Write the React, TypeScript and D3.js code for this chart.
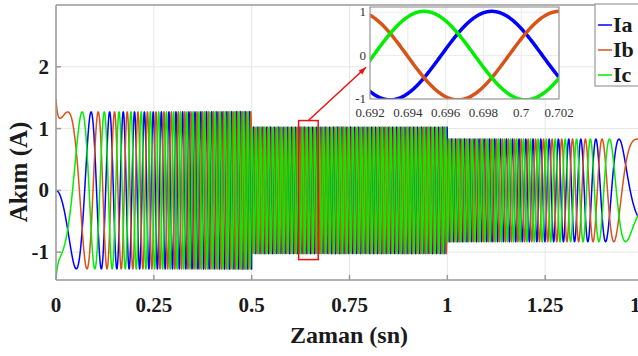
import React, { useEffect } from "react";
import * as d3 from "d3";

const W = 638;
const H = 356;

// main axes
const xTicks = [0, 0.25, 0.5, 0.75, 1, 1.25, 1.5];
const xTickLabels = ["0", "0.25", "0.5", "0.75", "1", "1.25", "1.5"];
const yTicks = [-1, 0, 1, 2];
const yTickLabels = ["-1", "0", "1", "2"];

// three phase currents
const phaseNames = ["Ia", "Ib", "Ic"];
const phaseColors = ["#0000ff", "#d95319", "#00ee00"];
const phaseShiftDeg = [0, -120, 120];
const startAngleDeg = 180;
const spikeAmp = [0, 0.38, -0.35];
const spikeTau = 0.004;

// amplitude per load step
const segStart = [0, 0.5, 1.0];
const segAmp = [1.27, 1.02, 0.83];

// supply frequency profile (Hz)
const freqTime = [0, 0.5, 1.0, 1.5];
const freqHz = [0, 93.1, 93.1, 0];

// zoom window
const zoomTicksX = [0.692, 0.694, 0.696, 0.698, 0.7, 0.702];
const zoomTickLabelsX = ["0.692", "0.694", "0.696", "0.698", "0.7", "0.702"];
const zoomTicksY = [-1, 0, 1];
const zoomTickLabelsY = ["-1", "0", "1"];
const markWindow = [0.62, 0.67, -1.12, 1.13];

function cyclesAt(t: number) {
  let c = 0;
  for (let i = 0; i < freqTime.length - 1; i++) {
    const t0 = freqTime[i];
    const t1 = freqTime[i + 1];
    if (t <= t0) break;
    const te = Math.min(t, t1);
    const f0 = freqHz[i];
    const slope = (freqHz[i + 1] - f0) / (t1 - t0);
    const fe = f0 + slope * (te - t0);
    c += ((f0 + fe) / 2) * (te - t0);
  }
  return c;
}

function ampAt(t: number) {
  let a = segAmp[0];
  segStart.forEach((s, i) => {
    if (t >= s) a = segAmp[i];
  });
  return a;
}

function current(k: number, t: number) {
  const th =
    ((startAngleDeg + phaseShiftDeg[k]) * Math.PI) / 180 +
    2 * Math.PI * cyclesAt(t);
  return ampAt(t) * Math.sin(th) + spikeAmp[k] * Math.exp(-t / spikeTau);
}

const serif = "Liberation Serif, DejaVu Serif, serif";
const boldText = { fontFamily: serif, fontWeight: 700 } as const;

export default function App() {
  useEffect(() => {
    document.body.style.margin = "0";
  }, []);

  const mL = 56,
    mR = 643,
    mT = 5,
    mB = 280;
  const x = d3.scaleLinear().domain([0, 1.5]).range([mL, mR]);
  const y = d3.scaleLinear().domain([-1.45, 3]).range([mB, mT]);

  const zL = 370,
    zR = 559,
    zT = 7,
    zB = 99;
  const zx = d3.scaleLinear().domain([0.692, 0.702]).range([zL, zR]);
  const zy = d3.scaleLinear().domain([-1, 1.12]).range([zB, zT]);

  const ts = d3.range(0, 1.5, 1 / 20000);
  const zts = d3.range(0.6915, 0.7025, 0.00002);

  const mainLine = (k: number) =>
    d3
      .line<number>()
      .x((t) => x(t))
      .y((t) => y(current(k, t)))(ts) || "";
  const zoomLine = (k: number) =>
    d3
      .line<number>()
      .x((t) => zx(t))
      .y((t) => zy(current(k, t)))(zts) || "";

  const rx0 = x(markWindow[0]);
  const rx1 = x(markWindow[1]);
  const ry0 = y(markWindow[3]);
  const ry1 = y(markWindow[2]);

  const ax0 = (rx0 + rx1) / 2;
  const ay0 = ry0;
  const ax1 = zx(0.692) - 4;
  const ay1 = zy(-0.27);
  const ang = Math.atan2(ay1 - ay0, ax1 - ax0);
  const hl = 8;
  const head = [
    [ax1, ay1],
    [ax1 - hl * Math.cos(ang - 0.35), ay1 - hl * Math.sin(ang - 0.35)],
    [ax1 - hl * Math.cos(ang + 0.35), ay1 - hl * Math.sin(ang + 0.35)],
  ]
    .map((p) => p.join(","))
    .join(" ");

  return (
    <svg width={W} height={H} style={{ display: "block", background: "#fff" }}>
      <defs>
        <clipPath id="mainClip">
          <rect x={mL} y={mT} width={mR - mL} height={mB - mT} />
        </clipPath>
        <clipPath id="zoomClip">
          <rect x={zL} y={zT} width={zR - zL} height={zB - zT} />
        </clipPath>
      </defs>

      {/* grid */}
      <g stroke="#e6e6e6" strokeWidth={1}>
        {xTicks.map((t) => (
          <line key={"gx" + t} x1={x(t)} x2={x(t)} y1={mT} y2={mB} />
        ))}
        {yTicks.map((t) => (
          <line key={"gy" + t} x1={mL} x2={mR} y1={y(t)} y2={y(t)} />
        ))}
      </g>

      {/* signals */}
      <g clipPath="url(#mainClip)" fill="none">
        {phaseNames.map((n, k) => (
          <path key={n} d={mainLine(k)} stroke={phaseColors[k]} strokeWidth={1.5} />
        ))}
      </g>

      {/* axes box */}
      <g stroke="#9a9a9a" strokeWidth={1.5} fill="none">
        <line x1={mL} x2={mR} y1={mB} y2={mB} />
        <line x1={mL} x2={mR} y1={mT} y2={mT} />
        <line x1={mL} x2={mL} y1={mT} y2={mB} />
        {xTicks.map((t) => (
          <line key={"tx" + t} x1={x(t)} x2={x(t)} y1={mB} y2={mB - 5} />
        ))}
        {yTicks.map((t) => (
          <line key={"ty" + t} x1={mL} x2={mL + 5} y1={y(t)} y2={y(t)} />
        ))}
      </g>

      <g style={{ ...boldText, fontSize: 21 }} fill="#1a1a1a">
        {xTicks.map((t, i) => (
          <text key={"lx" + t} x={x(t)} y={312} textAnchor="middle">
            {xTickLabels[i]}
          </text>
        ))}
        {yTicks.map((t, i) => (
          <text key={"ly" + t} x={49} y={y(t) + 7} textAnchor="end">
            {yTickLabels[i]}
          </text>
        ))}
        <text x={349} y={343} textAnchor="middle" style={{ fontSize: 24 }}>
          Zaman (sn)
        </text>
        <text
          transform={`translate(27,172) rotate(-90)`}
          textAnchor="middle"
          style={{ fontSize: 25 }}
        >
          Akım (A)
        </text>
      </g>

      {/* marked window and arrow */}
      <rect
        x={rx0}
        y={ry0}
        width={rx1 - rx0}
        height={ry1 - ry0}
        fill="none"
        stroke="#ee1111"
        strokeWidth={1.5}
      />
      <line x1={ax0} y1={ay0} x2={ax1} y2={ay1} stroke="#ee1111" strokeWidth={1.5} />
      <polygon points={head} fill="#ee1111" />

      {/* zoom inset */}
      <rect x={zL} y={zT} width={zR - zL} height={zB - zT} fill="#fff" />
      <g stroke="#ececec" strokeWidth={1}>
        {zoomTicksX.map((t) => (
          <line key={"zgx" + t} x1={zx(t)} x2={zx(t)} y1={zT} y2={zB} />
        ))}
        {zoomTicksY.map((t) => (
          <line key={"zgy" + t} x1={zL} x2={zR} y1={zy(t)} y2={zy(t)} />
        ))}
      </g>
      <g clipPath="url(#zoomClip)" fill="none">
        {phaseNames.map((n, k) => (
          <path key={"z" + n} d={zoomLine(k)} stroke={phaseColors[k]} strokeWidth={3.5} />
        ))}
      </g>
      <rect
        x={zL}
        y={zT}
        width={zR - zL}
        height={zB - zT}
        fill="none"
        stroke="#9a9a9a"
        strokeWidth={1.2}
      />
      <g style={{ fontFamily: serif, fontSize: 13 }} fill="#333">
        {zoomTicksX.map((t, i) => (
          <text key={"zlx" + t} x={zx(t)} y={117} textAnchor="middle">
            {zoomTickLabelsX[i]}
          </text>
        ))}
        {zoomTicksY.map((t, i) => (
          <text key={"zly" + t} x={366} y={zy(t) + 4} textAnchor="end">
            {zoomTickLabelsY[i]}
          </text>
        ))}
      </g>

      {/* legend */}
      <rect x={595} y={4} width={60} height={82} fill="#fff" stroke="#9a9a9a" strokeWidth={1.2} />
      {phaseNames.map((n, k) => (
        <g key={"lg" + n}>
          <line x1={598} x2={612} y1={25 + k * 25} y2={25 + k * 25} stroke={phaseColors[k]} strokeWidth={1.5} />
          <text x={613} y={32 + k * 25} style={{ ...boldText, fontSize: 22 }} fill="#1a1a1a">
            {n}
          </text>
        </g>
      ))}
    </svg>
  );
}
